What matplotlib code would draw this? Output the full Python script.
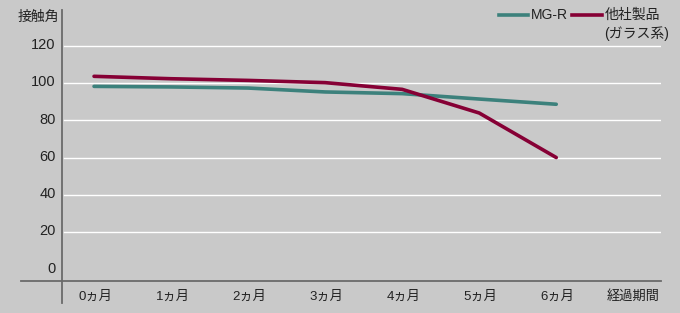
import matplotlib.pyplot as plt
from matplotlib.lines import Line2D

plt.rcParams['font.family'] = ['Liberation Sans', 'Noto Sans CJK JP', 'DejaVu Sans']

months = ["0ヵ月", "1ヵ月", "2ヵ月", "3ヵ月", "4ヵ月", "5ヵ月", "6ヵ月"]
mg_r = [98.2, 97.9, 97.3, 95.2, 94.3, 91.4, 88.6]
other = [103.6, 102.3, 101.4, 100.2, 96.6, 83.9, 60.0]
yticks = [0, 20, 40, 60, 80, 100, 120]

BG = "#c9c9c9"
TEAL = "#3c817c"
WINE = "#860035"
AXC = "#6a6a6a"
TXT = "#222222"

W, H = 680, 313
fig = plt.figure(figsize=(W / 100, H / 100), dpi=100, facecolor=BG)
# axes spans px x 62..661, y 10..303
ax = fig.add_axes([62 / W, 1 - 303 / H, (661 - 62) / W, (303 - 10) / H])
ax.set_facecolor(BG)
for s in ax.spines.values():
    s.set_visible(False)

x = list(range(len(months)))
ax.set_xlim(-0.416, 7.36)
ax.set_ylim(-18.1, 139.2)

for v in yticks[1:]:
    ax.plot([-0.39, 7.36], [v, v], color="white", lw=1.0, zorder=1)

ax.plot(x, mg_r, color=TEAL, lw=2.6, solid_capstyle="round", zorder=3)
ax.plot(x, other, color=WINE, lw=2.6, solid_capstyle="round", zorder=4)

ax.set_xticks([])
ax.set_yticks([])

# axis lines
fig.add_artist(Line2D([62 / W, 62 / W], [1 - 10 / H, 1 - 303 / H], color=AXC, lw=1.3))
fig.add_artist(Line2D([21 / W, 661 / W], [1 - 281 / H, 1 - 281 / H], color=AXC, lw=1.3))

# y tick labels
for v in yticks:
    ax.text(-0.5, v + 0.3, str(v), ha="right", va="center", fontsize=10.5, color=TXT,
            clip_on=False)
fig.text(18 / W, 1 - 17 / H, "接触角", ha="left", va="center", fontsize=10, color=TXT)

# x tick labels
for i, m in enumerate(months):
    ax.text(i + 0.02, -14.8, m, ha="center", va="center", fontsize=9.5, color=TXT, clip_on=False)
ax.text(7.0, -14.8, "経過期間", ha="center", va="center", fontsize=9.5, color=TXT, clip_on=False)

# legend
ly = 1 - 15 / H
fig.add_artist(Line2D([499 / W, 528 / W], [ly, ly], color=TEAL, lw=2.6))
fig.text(531 / W, ly, "MG-R", ha="left", va="center", fontsize=10, color=TXT)
fig.add_artist(Line2D([572 / W, 602 / W], [ly, ly], color=WINE, lw=2.6))
fig.text(605 / W, ly, "他社製品", ha="left", va="center", fontsize=10, color=TXT)
fig.text(604 / W, 1 - 34 / H, "(ガラス系)", ha="left", va="center", fontsize=10, color=TXT)

fig.savefig("out.png", dpi=100, facecolor=BG)
